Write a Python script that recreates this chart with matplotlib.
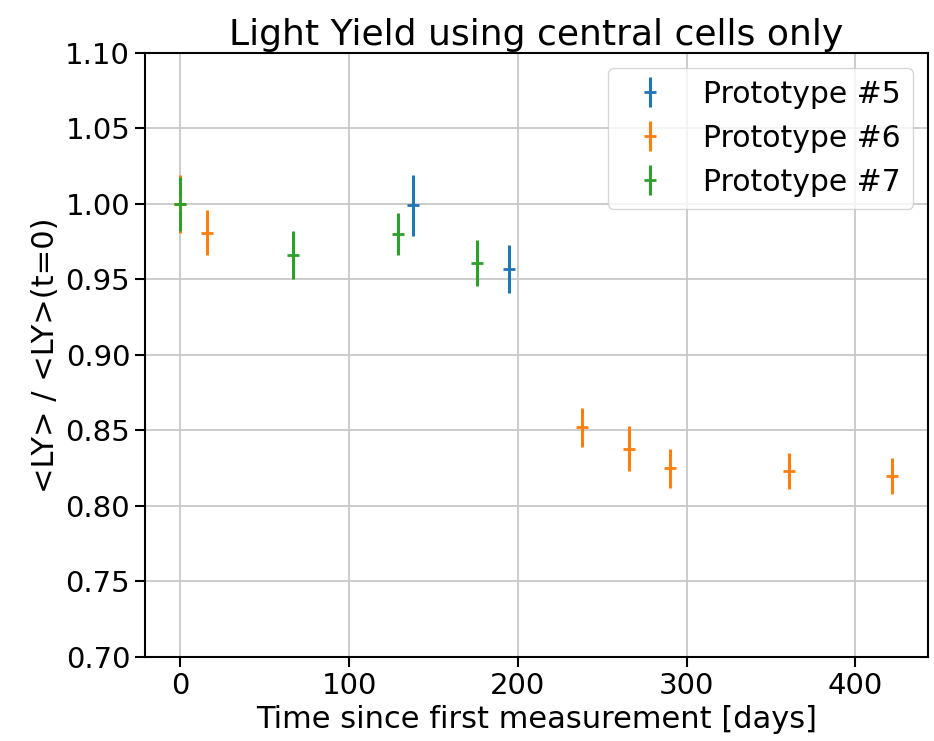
import matplotlib
matplotlib.use("Agg")
import matplotlib.pyplot as plt

# Prototype #5
days_p5 = [138, 195]
ly_p5 = [0.999, 0.957]
err_p5 = [0.020, 0.016]

# Prototype #6
days_p6 = [0, 16, 238, 266, 290, 361, 422]
ly_p6 = [1.000, 0.981, 0.852, 0.838, 0.825, 0.823, 0.820]
err_p6 = [0.019, 0.015, 0.013, 0.015, 0.013, 0.012, 0.012]

# Prototype #7
days_p7 = [0, 67, 129, 176]
ly_p7 = [1.000, 0.966, 0.980, 0.961]
err_p7 = [0.018, 0.016, 0.014, 0.015]

fig = plt.figure(figsize=(9.34, 7.41), dpi=100)
ax = fig.add_axes([0.155, 0.1134, 0.8386, 0.8151])

ax.errorbar(days_p5, ly_p5, yerr=err_p5, fmt="+", ms=9, mew=2, lw=2.2, label="Prototype #5")
ax.errorbar(days_p6, ly_p6, yerr=err_p6, fmt="+", ms=9, mew=2, lw=2.2, label="Prototype #6")
ax.errorbar(days_p7, ly_p7, yerr=err_p7, fmt="+", ms=9, mew=2, lw=2.2, label="Prototype #7")

ax.set_ylim(0.70, 1.10)
ax.set_yticks([0.70, 0.75, 0.80, 0.85, 0.90, 0.95, 1.00, 1.05, 1.10])
ax.set_xticks([0, 100, 200, 300, 400])
ax.tick_params(labelsize=21, length=7, width=1.5)
for s in ax.spines.values():
    s.set_linewidth(1.5)
ax.grid(True, lw=1.3, color="#c8c8c8")

ax.set_title("Light Yield using central cells only", fontsize=26)
ax.set_xlabel("Time since first measurement [days]", fontsize=22)
ax.set_ylabel("<LY> / <LY>(t=0)", fontsize=22)
ax.legend(loc="upper right", fontsize=21.5)

plt.savefig("out.png", dpi=100)
